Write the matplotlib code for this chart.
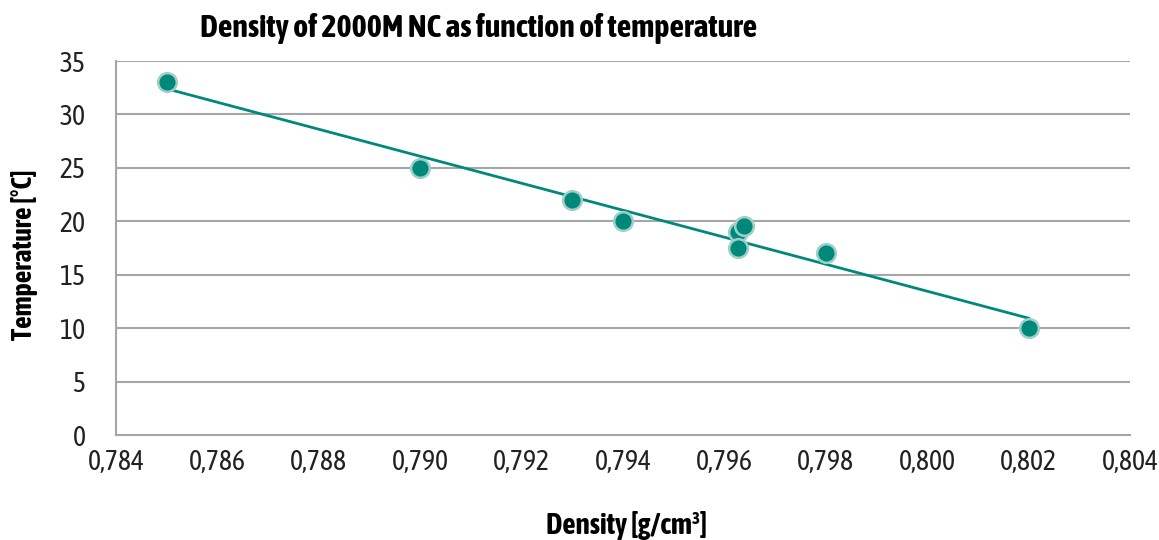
import matplotlib
matplotlib.use("Agg")
import matplotlib.pyplot as plt
from matplotlib import font_manager
import numpy as np

# density [g/cm3] vs temperature [C]
density = [0.785, 0.790, 0.793, 0.794, 0.79627, 0.79627, 0.79638, 0.798, 0.802]
temperature = [33, 25, 22, 20, 19, 17.5, 19.6, 17, 10]

x_ticks = [0.784, 0.786, 0.788, 0.790, 0.792, 0.794, 0.796, 0.798, 0.800, 0.802, 0.804]
y_ticks = [0, 5, 10, 15, 20, 25, 30, 35]

teal = "#00897b"
grid_col = "#a6a6a6"


def weight_num(w):
    if isinstance(w, int):
        return w
    return font_manager.weight_dict.get(w, 400)


# look for a narrow face, the reference uses a condensed font
faces = font_manager.fontManager.ttflist
narrow = sorted(set(f.name for f in faces if "Narrow" in f.name or "Condensed" in f.name))
bold_ok = [n for n in narrow
           if any(f.name == n and weight_num(f.weight) >= 600 for f in faces)]
if bold_ok:
    family = bold_ok[0]
elif narrow:
    family = narrow[0]
else:
    family = "Roboto"
plt.rcParams["font.family"] = [family, "DejaVu Sans"]

fig = plt.figure(figsize=(11.59, 5.40), dpi=100)
ax = fig.add_axes([116 / 1159, 1 - 435 / 540, (1130 - 116) / 1159, (435 - 61) / 540])

# linear trend line
k, b = np.polyfit(density, temperature, 1)
xs = np.array([min(density), max(density)])
ax.plot(xs, k * xs + b, color=teal, lw=2, zorder=2)

ax.scatter(density, temperature, s=180, color=teal, edgecolors="#9fcfc8",
           linewidths=1.8, zorder=3)

ax.set_xlim(0.784, 0.804)
ax.set_ylim(0, 35)
ax.set_xticks(x_ticks)
ax.set_xticklabels([("%.3f" % v).replace(".", ",") for v in x_ticks])
ax.set_yticks(y_ticks)
ax.tick_params(length=0, labelsize=20, colors="#222222")
ax.tick_params(axis="x", pad=10)
ax.tick_params(axis="y", pad=22)
ax.grid(axis="y", color=grid_col, lw=1.5)
ax.set_axisbelow(True)
for s in ["top", "right"]:
    ax.spines[s].set_visible(False)
for s in ["left", "bottom"]:
    ax.spines[s].set_color(grid_col)
    ax.spines[s].set_linewidth(1.5)

fig.text(200 / 1159, 1 - 28 / 540, "Density of 2000M NC as function of temperature",
         fontsize=23, fontweight="bold", ha="left", va="center")
fig.text(626 / 1159, 1 - 525 / 540, "Density [g/cm³]", fontsize=21,
         fontweight="bold", ha="center", va="center")
fig.text(25 / 1159, 1 - 255 / 540, "Temperature [°C]", fontsize=20,
         fontweight="bold", ha="center", va="center", rotation=90)

fig.savefig("out.png", dpi=100)
